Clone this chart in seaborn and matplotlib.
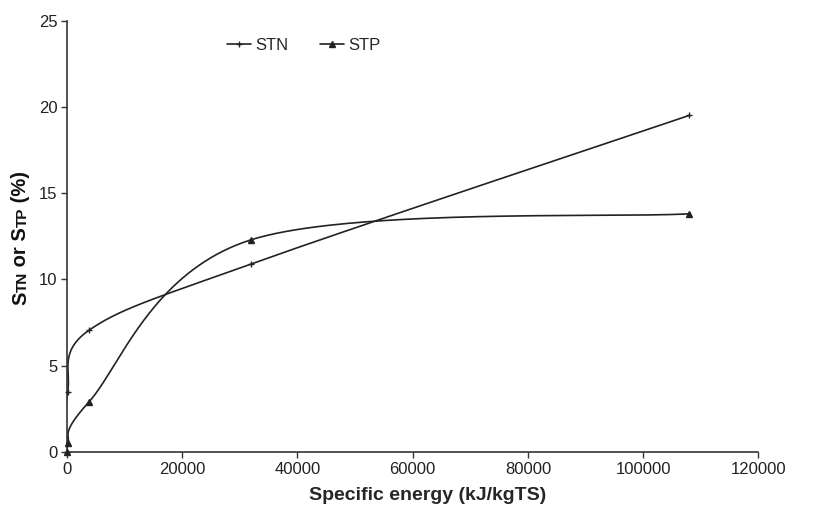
import numpy as np
import pandas as pd
import matplotlib
matplotlib.use("Agg")
import matplotlib.pyplot as plt
from matplotlib.lines import Line2D
import seaborn as sns

# specific energy levels (kJ/kgTS)
energy = [0, 100, 3800, 32000, 108000]
stn = [0, 3.5, 7.05, 10.9, 19.5]
stp = [0, 0.5, 2.9, 12.3, 13.8]

sns.set_theme(style="ticks")
plt.rcParams['font.family'] = ['Liberation Sans', 'DejaVu Sans']

W, H = 818, 513
fig = plt.figure(figsize=(W / 100, H / 100), dpi=100)
ax = fig.add_axes([0.082, 0.119, 0.845, 0.841])

XMAX, YMAX = 120000, 25
# axes size in pixels, so the smoothing works in screen space like Excel does
PX_W, PX_H = 691, 431


def smooth(xs, ys, n=80):
    # Excel style smoothed line: Catmull-Rom Bezier segments in screen space
    p = np.column_stack([np.array(xs) / XMAX * PX_W, np.array(ys) / YMAX * PX_H])
    ext = np.vstack([p[0], p, p[-1]])
    out = []
    t = np.linspace(0, 1, n)[:, None]
    for i in range(len(p) - 1):
        p0, p1, p2, p3 = ext[i], ext[i + 1], ext[i + 2], ext[i + 3]
        c1 = p1 + (p2 - p0) / 6
        c2 = p2 - (p3 - p1) / 6
        seg = ((1 - t) ** 3) * p1 + 3 * ((1 - t) ** 2) * t * c1 + 3 * (1 - t) * t ** 2 * c2 + t ** 3 * p2
        out.append(seg if i == 0 else seg[1:])
    out = np.vstack(out)
    return out[:, 0] / PX_W * XMAX, out[:, 1] / PX_H * YMAX


col = '#222222'
for vals, mk, ms in [(stn, '+', 4), (stp, '^', 5)]:
    sx, sy = smooth(energy, vals)
    df = pd.DataFrame({'x': sx, 'y': sy})
    sns.lineplot(data=df, x='x', y='y', sort=False, color=col, linewidth=1.2, ax=ax, estimator=None)
    ax.plot(energy, vals, linestyle='none', marker=mk, color=col, markersize=ms,
            markeredgewidth=1.0, clip_on=False, zorder=5)

ax.set_xlim(0, XMAX)
ax.set_ylim(0, YMAX)
ax.set_xticks(range(0, 120001, 20000))
ax.set_yticks(range(0, 26, 5))
ax.tick_params(axis='both', labelsize=12, length=4, width=1, color='#333333', labelcolor='#222222', pad=3)
for s in ['top', 'right']:
    ax.spines[s].set_visible(False)
for s in ['left', 'bottom']:
    ax.spines[s].set_color('#333333')
    ax.spines[s].set_linewidth(1.2)

ax.set_xlabel('Specific energy (kJ/kgTS)', fontsize=14, fontweight='bold')
ax.xaxis.set_label_coords(0.522, -0.082)
ax.set_ylabel('')

# y label in small caps style: S big, subscript letters smaller on the same baseline
pieces = [('S', 14.5), ('TN', 11), (' or S', 14.5), ('TP', 11), (' (%)', 14.5)]
fig.canvas.draw()
rend = fig.canvas.get_renderer()
texts = []
for s, fs in pieces:
    t = fig.text(0, 0, s, rotation=90, rotation_mode='anchor', ha='left', va='baseline',
                 fontsize=fs, fontweight='bold', color='#111111')
    texts.append(t)
lengths = [t.get_window_extent(rend).height for t in texts]
total = sum(lengths)
base_x = 26.5
y = (H - 238) - total / 2
for t, L in zip(texts, lengths):
    t.set_position((base_x / W, y / H))
    y += L

handles = [Line2D([], [], color=col, marker='+', markersize=4, linewidth=1.2),
           Line2D([], [], color=col, marker='^', markersize=5, linewidth=1.2)]
ax.legend(handles, ['STN', 'STP'], loc='upper left', bbox_to_anchor=(0.21, 0.995), ncol=2,
          frameon=False, fontsize=12, handlelength=1.4, handletextpad=0.3, columnspacing=1.9)

fig.savefig('out.png', dpi=100)
